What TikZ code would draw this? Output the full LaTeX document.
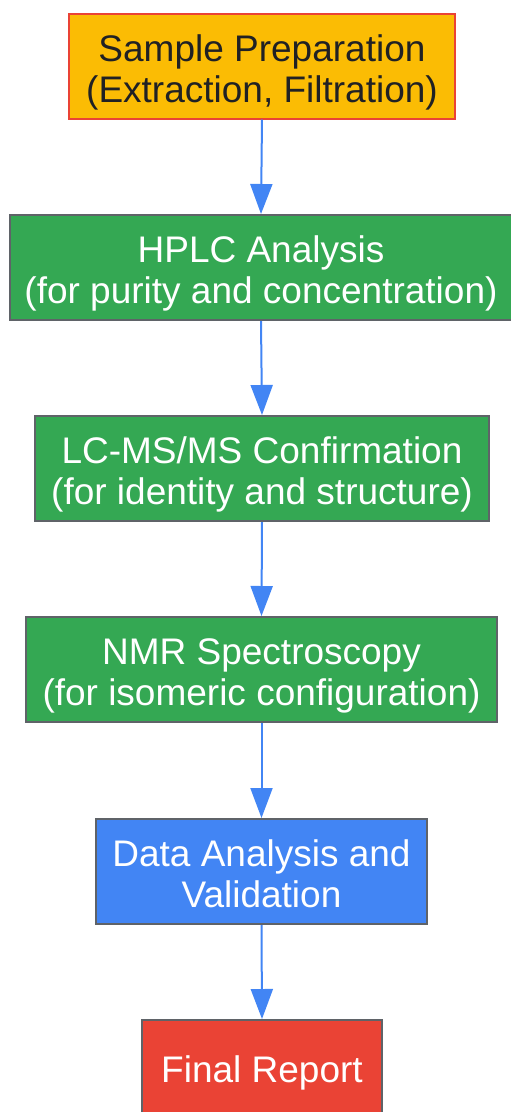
\documentclass[tikz,border=0pt]{standalone}
\usepackage{fontspec}
\setmainfont{Liberation Sans}
\usetikzlibrary{arrows.meta}
\definecolor{gyellow}{HTML}{FBBC04}
\definecolor{ggreen}{HTML}{34A853}
\definecolor{gblue}{HTML}{4285F4}
\definecolor{gred}{HTML}{EA4335}
\definecolor{ggray}{HTML}{5F6368}
\definecolor{gtext}{HTML}{202124}
\tikzset{
  box/.style={rectangle, draw=ggray, line width=2pt, inner sep=0pt, align=center,
    text=white, font=\fontsize{37}{41}\selectfont, minimum height=105pt},
  twoline/.style={text height=88.5pt, text depth=16.5pt},
  conn/.style={draw=gblue, line width=2pt, -{Triangle[length=30pt,width=22pt]}}
}
\begin{document}
\begin{tikzpicture}[x=1pt,y=-1pt]
\useasboundingbox (0,0) rectangle (511,1112);
\node[box, twoline, fill=gyellow, draw=gred, text=gtext, minimum width=386pt] (prep) at (262,66) {Sample Preparation\\(Extraction, Filtration)};
\node[box, twoline, fill=ggreen, minimum width=502pt] (hplc) at (261,267.5) {HPLC Analysis\\(for purity and concentration)};
\node[box, twoline, fill=ggreen, minimum width=454pt] (lcms) at (262,468.5) {LC-MS/MS Confirmation\\(for identity and structure)};
\node[box, twoline, fill=ggreen, minimum width=471pt] (nmr) at (261.5,669.5) {NMR Spectroscopy\\(for isomeric configuration)};
\node[box, twoline, fill=gblue, minimum width=331pt] (data) at (261.5,871.5) {Data Analysis and\\Validation};
\node[box, fill=gred, minimum width=240pt] (final) at (262,1072.5) {Final Report};
\draw[conn] (prep.south) -- (hplc.north);
\draw[conn] (hplc.south) -- (lcms.north);
\draw[conn] (lcms.south) -- (nmr.north);
\draw[conn] (nmr.south) -- (data.north);
\draw[conn] (data.south) -- (final.north);
\end{tikzpicture}
\end{document}
